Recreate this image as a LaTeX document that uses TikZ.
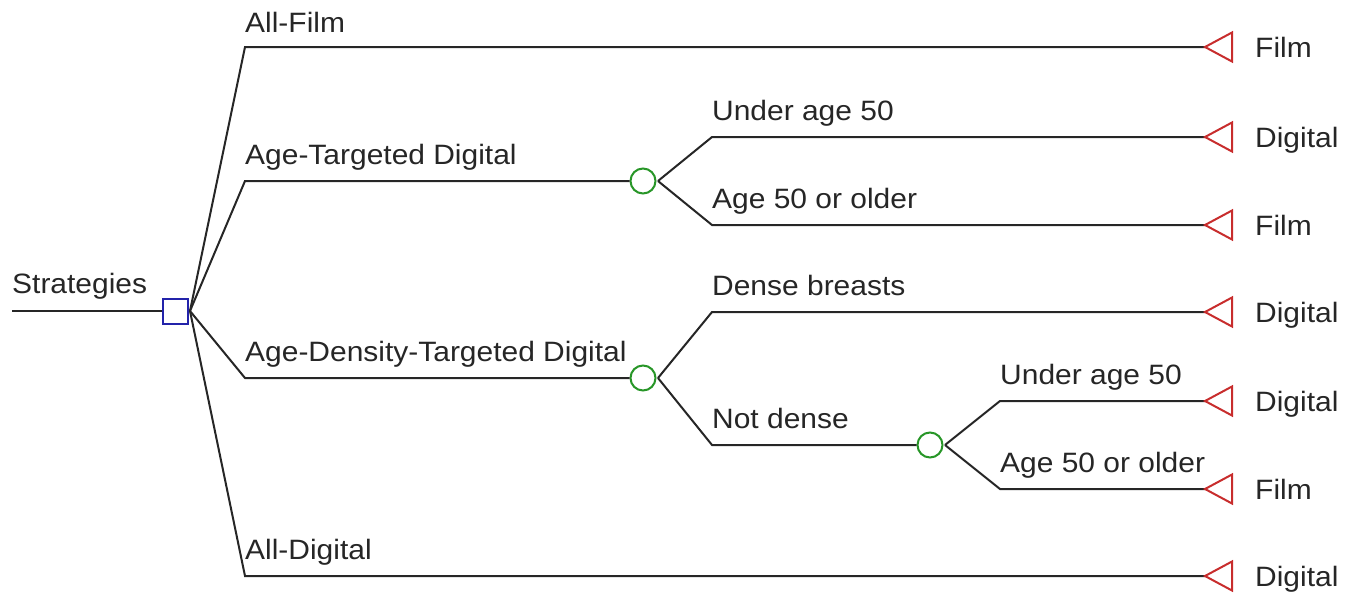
\documentclass[tikz,border=0pt]{standalone}
\usepackage{fontspec}
\setmainfont{Liberation Sans}[FakeStretch=1.07]
\definecolor{decblue}{RGB}{35,35,170}
\definecolor{chgreen}{RGB}{40,150,40}
\definecolor{termred}{RGB}{200,45,45}
\begin{document}
\begin{tikzpicture}[x=1pt,y=-1pt,
  edge/.style={line width=2pt,black!85},
  decnode/.style={draw=decblue,line width=2pt,rectangle,minimum size=25pt,inner sep=0pt,fill=white},
  chnode/.style={draw=chgreen,line width=2pt,circle,minimum size=25pt,inner sep=0pt,fill=white},
  termtri/.style={draw=termred,line width=2pt,line join=miter},
  lbl/.style={anchor=base west,inner sep=0pt,text=black!85,font=\fontsize{28}{32}\selectfont}]
\useasboundingbox (0,0) rectangle (1357,595);
% coordinates
\coordinate (root) at (12,311);
\coordinate (dv) at (190,311);
\coordinate (a1) at (245,47);
\coordinate (a2) at (245,181);
\coordinate (a3) at (245,378);
\coordinate (a4) at (245,576);
\coordinate (c1v) at (658,181);
\coordinate (c2v) at (658,378);
\coordinate (c3v) at (945,445);
\coordinate (b1) at (712,137);
\coordinate (b2) at (712,225);
\coordinate (b3) at (712,312);
\coordinate (b4) at (712,445);
\coordinate (b5) at (1000,401);
\coordinate (b6) at (1000,489);
\coordinate (t1) at (1205,47);
\coordinate (t2) at (1205,137);
\coordinate (t3) at (1205,225);
\coordinate (t4) at (1205,312);
\coordinate (t5) at (1205,401);
\coordinate (t6) at (1205,489);
\coordinate (t7) at (1205,576);
% nodes
\node[decnode] (d) at (175,311) {};
\node[chnode] (c1) at (643,181) {};
\node[chnode] (c2) at (643,378) {};
\node[chnode] (c3) at (930,445) {};
% connectors
\draw[edge] (root) -- (d.west);
\draw[edge] (dv) -- (a1) -- (t1);
\draw[edge] (dv) -- (a2) -- (c1.west);
\draw[edge] (dv) -- (a3) -- (c2.west);
\draw[edge] (dv) -- (a4) -- (t7);
\draw[edge] (c1v) -- (b1) -- (t2);
\draw[edge] (c1v) -- (b2) -- (t3);
\draw[edge] (c2v) -- (b3) -- (t4);
\draw[edge] (c2v) -- (b4) -- (c3.west);
\draw[edge] (c3v) -- (b5) -- (t5);
\draw[edge] (c3v) -- (b6) -- (t6);
% terminals
\foreach \t in {t1,t2,t3,t4,t5,t6,t7}
  \draw[termtri] (\t) -- ++(27,-14.5) -- ++(0,29) -- cycle;
% branch labels
\node[lbl] (lroot) at (12,293) {Strategies};
\node[lbl] (la1) at (245,32) {All-Film};
\node[lbl] (la2) at (245,164) {Age-Targeted Digital};
\node[lbl] (la3) at (245,361) {Age-Density-Targeted Digital};
\node[lbl] (la4) at (245,559) {All-Digital};
\node[lbl] (lb1) at (712,120) {Under age 50};
\node[lbl] (lb2) at (712,208) {Age 50 or older};
\node[lbl] (lb3) at (712,295) {Dense breasts};
\node[lbl] (lb4) at (712,428) {Not dense};
\node[lbl] (lb5) at (1000,384) {Under age 50};
\node[lbl] (lb6) at (1000,472) {Age 50 or older};
% terminal labels
\node[lbl] (lt1) at (1255,57) {Film};
\node[lbl] (lt2) at (1255,147) {Digital};
\node[lbl] (lt3) at (1255,235) {Film};
\node[lbl] (lt4) at (1255,322) {Digital};
\node[lbl] (lt5) at (1255,411) {Digital};
\node[lbl] (lt6) at (1255,499) {Film};
\node[lbl] (lt7) at (1255,586) {Digital};
\end{tikzpicture}
\end{document}
